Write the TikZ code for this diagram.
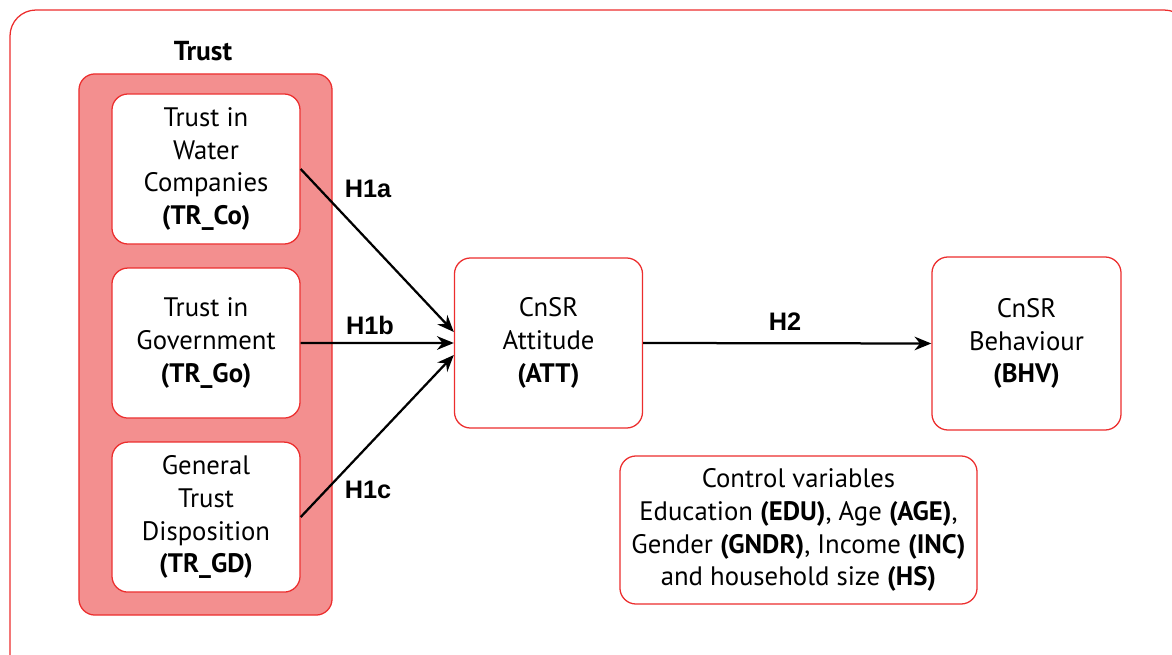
\documentclass[tikz,border=0pt]{standalone}
\usepackage{fontspec}
\setmainfont{PT Sans}
\newfontfamily\hfont{Liberation Sans}
\usetikzlibrary{shapes.geometric, arrows.meta, positioning}

\begin{document}
\begin{tikzpicture}[x=0.025cm, y=-0.025cm, node distance=4.35cm]

\definecolor{boxred}{RGB}{236,45,45}
\definecolor{trustpink}{RGB}{243,143,143}

\tikzstyle{construct} = [rectangle, rounded corners=0.4cm, draw=boxred, fill=white, line width=0.9pt, minimum width=4.7cm, minimum height=3.75cm, align=center, font=\fontsize{19}{23.4}\selectfont]
\tikzstyle{group} = [rectangle, rounded corners=0.4cm, draw=boxred, fill=trustpink, line width=0.9pt, minimum width=6.325cm, minimum height=13.525cm]
\tikzstyle{hyp} = [font=\hfont\bfseries\fontsize{18}{22}\selectfont]
\tikzstyle{arrow} = [-{Stealth[length=0.42cm, width=0.34cm]}, line width=1.6pt, draw=black]

\clip (0,0) rectangle (1172,655);
\draw[boxred, line width=0.9pt, rounded corners=0.65cm] (10,10) rectangle (1190,680);

\node[group] (TR) at (205.5,344.5) {};
\node[font=\bfseries\fontsize{19.5}{23}\selectfont] (TRlabel) at (203,51) {Trust};

\node[construct] (TRCo) at (206,169) {Trust in\\Water\\Companies\\\textbf{(TR\_Co)}};
\node[construct, below of=TRCo] (TRGo) {Trust in\\Government\\\textbf{(TR\_Go)}};
\node[construct, below of=TRGo] (TRGD) {General\\Trust\\Disposition\\\textbf{(TR\_GD)}};

\node[construct, minimum height=4.25cm] (ATT) at (548.5,343) {CnSR\\Attitude\\\textbf{(ATT)}};
\node[construct, minimum width=4.725cm, minimum height=4.325cm] (BHV) at (1026.5,343.5) {CnSR\\Behaviour\\\textbf{(BHV)}};
\node[construct, minimum width=8.925cm, minimum height=3.7cm] (CTRL) at (798.5,530) {Control variables\\Education \textbf{(EDU)}, Age \textbf{(AGE)},\\Gender \textbf{(GNDR)}, Income \textbf{(INC)}\\and household size \textbf{(HS)}};

\draw[arrow] (TRCo.east) -- ([yshift=0.275cm]ATT.west);
\draw[arrow] (TRGo.east) -- (ATT.west);
\draw[arrow] (TRGD.east) -- ([yshift=-0.3cm]ATT.west);
\draw[arrow] (ATT.east) -- (BHV.west);

\node[hyp] (H1a) at (368,189) {H1a};
\node[hyp] (H1b) at (370,325) {H1b};
\node[hyp] (H1c) at (368,490) {H1c};
\node[hyp] (H2) at (785,322) {H2};

\end{tikzpicture}
\end{document}
